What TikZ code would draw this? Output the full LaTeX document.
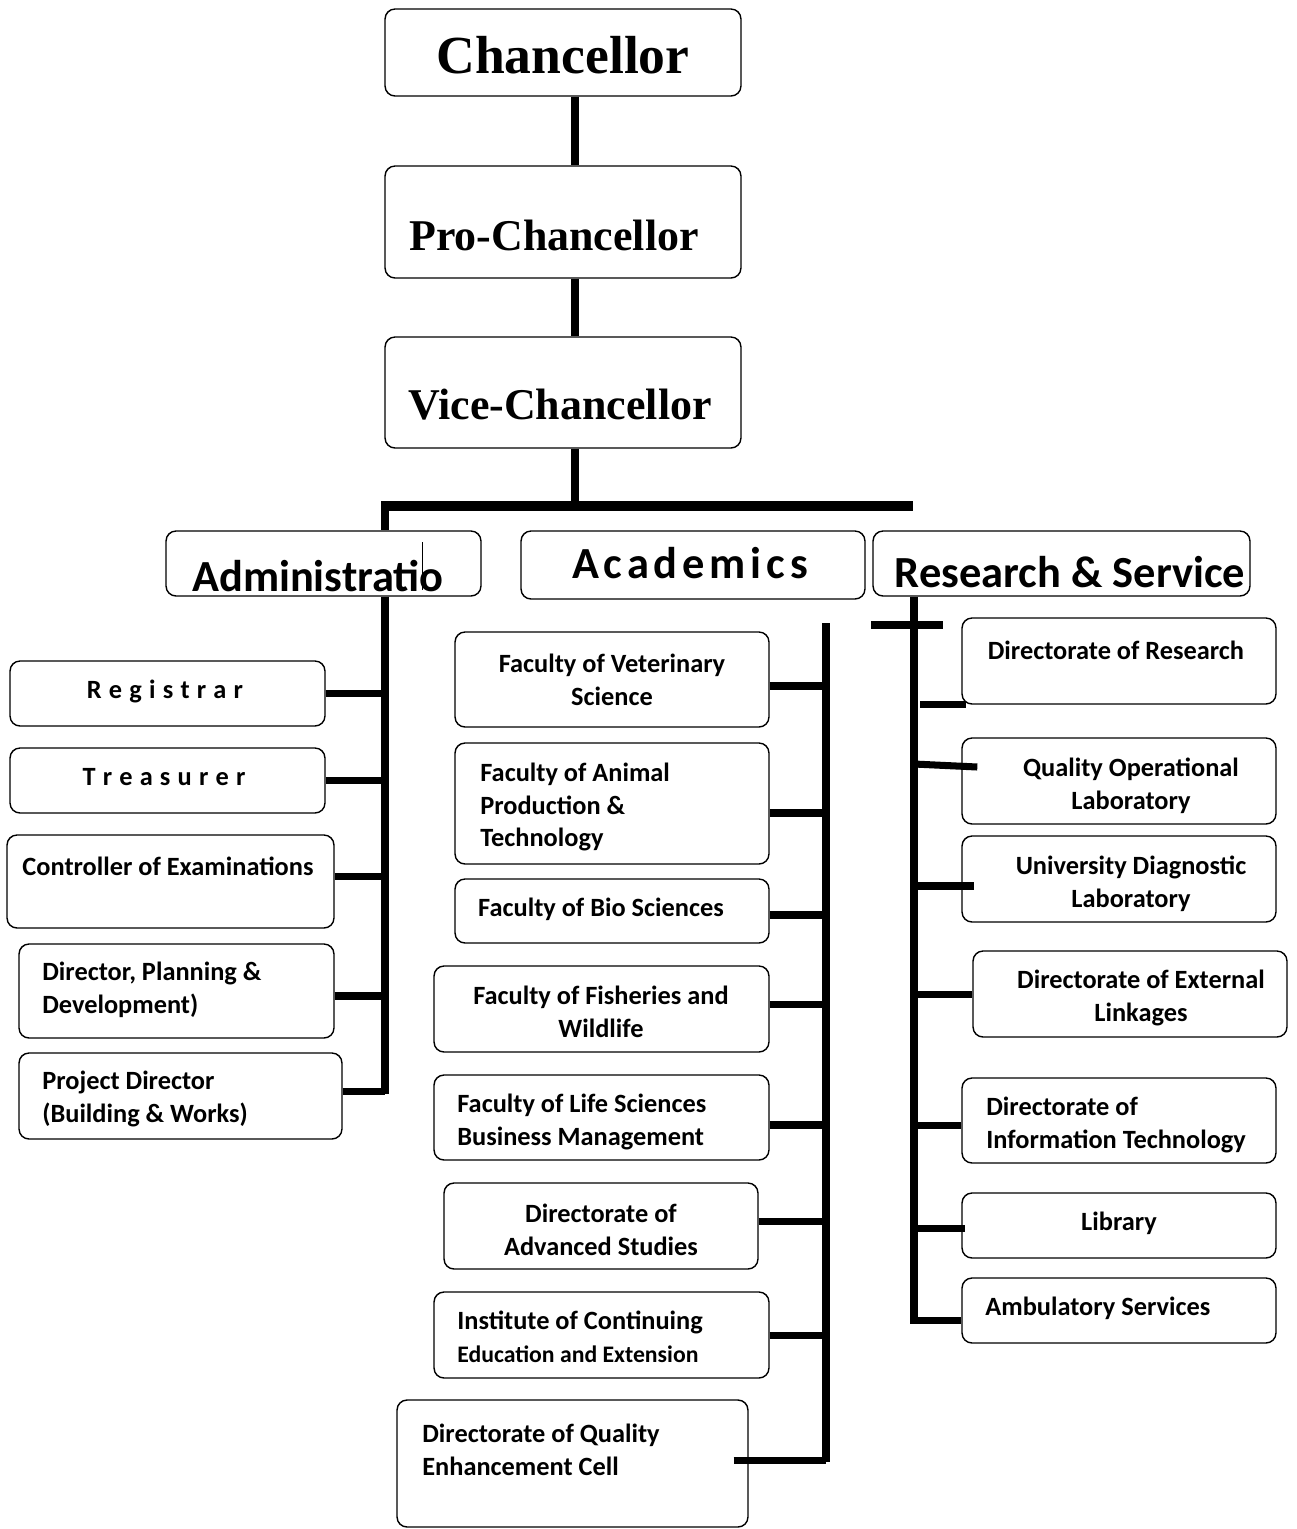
\documentclass[tikz,border=0pt]{standalone}
\usepackage{fontspec}
\setmainfont{Carlito}
\newfontfamily\titlefont{Liberation Serif}

\tikzset{
  box/.style={draw, rounded corners=2mm, line width=0.8pt, fill=white, inner sep=0pt},
  conn/.style={line width=4pt},
  head/.style={font=\titlefont\fontsize{25}{30}\selectfont\bfseries, inner sep=0pt},
  grp/.style={font=\fontsize{25.3}{30}\selectfont\bfseries, inner sep=0pt},
  txt/.style={font=\fontsize{15}{18.6}\selectfont\bfseries, inner sep=0pt, align=center},
  ltxt/.style={txt, align=left, anchor=west},
}

\begin{document}
\begin{tikzpicture}[x=0.02cm,y=-0.02cm]
  \useasboundingbox (0,0) rectangle (1296,1529);

  % top of the chart
  \node[box, minimum width=7.12cm, minimum height=1.74cm] (chan) at (563,52.5) {};
  \node[box, minimum width=7.12cm, minimum height=2.24cm] (pro) at (563,222) {};
  \node[box, minimum width=7.12cm, minimum height=2.22cm] (vice) at (563,392.5) {};
  \node[head, font=\titlefont\fontsize{30.5}{36}\selectfont\bfseries] (chan-t) at (563,55) {Chancellor};
  \node[head] (pro-t) at (554,235) {Pro-Chancellor};
  \node[head] (vice-t) at (560,405) {Vice-Chancellor};

  % three wings
  \node[box, minimum width=6.3cm, minimum height=1.3cm] (admin) at (323.5,563.5) {};
  \node[box, minimum width=6.88cm, minimum height=1.36cm] (acad) at (693,565) {};
  \node[box, minimum width=7.54cm, minimum height=1.3cm] (res) at (1061.5,563.5) {};
  \node[grp] (admin-t) at (318,576) {Administratio};
  \draw[line width=0.4pt] (422,542) -- (422,590);
  \node[grp] (acad-t) at (690,563) {\addfontfeatures{LetterSpace=11}Academics};
  \node[grp] (res-t) at (1070,572) {Research \& Service};

  % administration
  \node[box, minimum width=6.3cm, minimum height=1.3cm] (reg) at (167.5,693.5) {};
  \node[box, minimum width=6.3cm, minimum height=1.3cm] (treas) at (167.5,780.5) {};
  \node[box, minimum width=6.54cm, minimum height=1.86cm] (coe) at (170.5,881.5) {};
  \node[box, minimum width=6.3cm, minimum height=1.88cm] (dpd) at (176.5,991) {};
  \node[box, minimum width=6.46cm, minimum height=1.72cm] (pdir) at (180.5,1096) {};
  \node[txt] (reg-t) at (165,691) {\spaceskip=4.1pt R e g i s t r a r};
  \node[txt] (treas-t) at (164,777) {\spaceskip=4.1pt T r e a s u r e r};
  \node[txt] (coe-t) at (168,866) {Controller of Examinations};
  \node[ltxt] (dpd-t) at (42,990) {Director, Planning \&\\Development)};
  \node[ltxt] (pdir-t) at (42,1099) {Project Director\\(Building \& Works)};

  % academics
  \node[box, minimum width=6.28cm, minimum height=1.9cm] (vet) at (612,679.5) {};
  \node[box, minimum width=6.28cm, minimum height=2.42cm] (anim) at (612,803.5) {};
  \node[box, minimum width=6.28cm, minimum height=1.28cm] (bio) at (612,911) {};
  \node[box, minimum width=6.7cm, minimum height=1.72cm] (fish) at (601.5,1009) {};
  \node[box, minimum width=6.7cm, minimum height=1.7cm] (life) at (601.5,1117.5) {};
  \node[box, minimum width=6.28cm, minimum height=1.72cm] (das) at (601,1226) {};
  \node[box, minimum width=6.7cm, minimum height=1.72cm] (ice) at (601.5,1335) {};
  \node[box, minimum width=7.02cm, minimum height=2.54cm] (dqec) at (572.5,1463.5) {};
  \node[txt] (vet-t) at (612,680) {Faculty of Veterinary\\Science};
  \node[ltxt] (anim-t) at (480,807) {Faculty of Animal\\Production \&\\Technology};
  \node[txt] (bio-t) at (601,909) {Faculty of Bio Sciences};
  \node[txt] (fish-t) at (601,1012) {Faculty of Fisheries and\\Wildlife};
  \node[ltxt] (life-t) at (457,1122) {Faculty of Life Sciences\\Business Management};
  \node[txt] (das-t) at (601,1230) {Directorate of\\Advanced Studies};
  \node[ltxt] (ice-t) at (457,1337) {Institute of Continuing\\{\fontsize{13.5}{16}\selectfont Education and Extension}};
  \node[ltxt] (dqec-t) at (422,1450) {Directorate of Quality\\Enhancement Cell};

  % research and service
  \node[box, minimum width=6.28cm, minimum height=1.72cm] (dor) at (1119,661) {};
  \node[box, minimum width=6.28cm, minimum height=1.72cm] (qol) at (1119,781) {};
  \node[box, minimum width=6.28cm, minimum height=1.72cm] (udl) at (1119,879) {};
  \node[box, minimum width=6.28cm, minimum height=1.72cm] (del) at (1130,994) {};
  \node[box, minimum width=6.28cm, minimum height=1.7cm] (dit) at (1119,1120.5) {};
  \node[box, minimum width=6.28cm, minimum height=1.3cm] (lib) at (1119,1225.5) {};
  \node[box, minimum width=6.28cm, minimum height=1.3cm] (amb) at (1119,1310.5) {};
  \node[txt] (dor-t) at (1116,650) {Directorate of Research};
  \node[txt] (qol-t) at (1131,786) {Quality Operational\\Laboratory};
  \node[txt] (udl-t) at (1131,884) {University Diagnostic\\Laboratory};
  \node[txt] (del-t) at (1141,998) {Directorate of External\\Linkages};
  \node[ltxt] (dit-t) at (986,1125) {Directorate of\\Information Technology};
  \node[txt] (lib-t) at (1119,1223) {Library};
  \node[ltxt] (amb-t) at (985,1308) {Ambulatory Services};

  % connectors
  \coordinate (top) at (575,0);
  \coordinate (barL) at (381,506);
  \coordinate (barR) at (913,506);
  \coordinate (abus) at (385,1094);
  \coordinate (acatop) at (826,623);
  \coordinate (acabot) at (826,1462);
  \coordinate (rbus) at (914,1320);
  \coordinate (xl) at (871,625);
  \coordinate (xr) at (943,625);

  \draw[conn] (chan.south -| top) -- (pro.north -| top);
  \draw[conn] (pro.south -| top) -- (vice.north -| top);
  \draw[conn] (vice.south -| top) -- (top |- barL);
  \draw[line width=6pt] (barL) -- (barR);
  \draw[conn] ([yshift=0.1cm]abus |- barL) -- (abus |- admin.north);

  \draw[conn] (admin.south -| abus) -- (abus);
  \draw[conn] (reg.east) -- (reg.east -| abus);
  \draw[conn] (treas.east) -- (treas.east -| abus);
  \draw[conn] ([yshift=0.1cm]coe.east) -- ([yshift=0.1cm]coe.east -| abus);
  \draw[conn] ([yshift=-0.1cm]dpd.east) -- ([yshift=-0.1cm]dpd.east -| abus);
  \draw[conn] ([yshift=0.1cm]pdir.east) -- ([yshift=0.1cm]pdir.east -| abus);

  \draw[conn] (acatop) -- (acabot);
  \draw[conn] ([yshift=-0.13cm]vet.east) -- ([yshift=-0.13cm]vet.east -| acatop);
  \draw[conn] ([yshift=-0.19cm]anim.east) -- ([yshift=-0.19cm]anim.east -| acatop);
  \draw[conn] ([yshift=-0.08cm]bio.east) -- ([yshift=-0.08cm]bio.east -| acatop);
  \draw[conn] ([yshift=0.1cm]fish.east) -- ([yshift=0.1cm]fish.east -| acatop);
  \draw[conn] ([yshift=-0.15cm]life.east) -- ([yshift=-0.15cm]life.east -| acatop);
  \draw[conn] ([yshift=0.1cm]das.east) -- ([yshift=0.1cm]das.east -| acatop);
  \draw[conn] (ice.east) -- (ice.east -| acatop);
  \draw[conn] ([xshift=-0.3cm,yshift=0.07cm]dqec.east) -- ([yshift=0.07cm]dqec.east -| acabot);

  \draw[conn] (res.south -| rbus) -- (rbus) -- (rbus -| amb.west);
  \draw[conn] (xl) -- (xr);
  \draw[conn] ([xshift=0.12cm]dor.south west -| rbus) -- ([xshift=0.1cm]dor.south west);
  \draw[conn] ([yshift=0.34cm]qol.west -| rbus) -- ([xshift=0.32cm,yshift=0.28cm]qol.west);
  \draw[conn] ([yshift=-0.14cm]udl.west -| rbus) -- ([xshift=0.26cm,yshift=-0.14cm]udl.west);
  \draw[conn] (del.west -| rbus) -- (del.west);
  \draw[conn] ([yshift=-0.09cm]dit.west -| rbus) -- ([yshift=-0.09cm]dit.west);
  \draw[conn] ([yshift=-0.05cm]lib.west -| rbus) -- ([xshift=0.08cm,yshift=-0.05cm]lib.west);
\end{tikzpicture}
\end{document}
